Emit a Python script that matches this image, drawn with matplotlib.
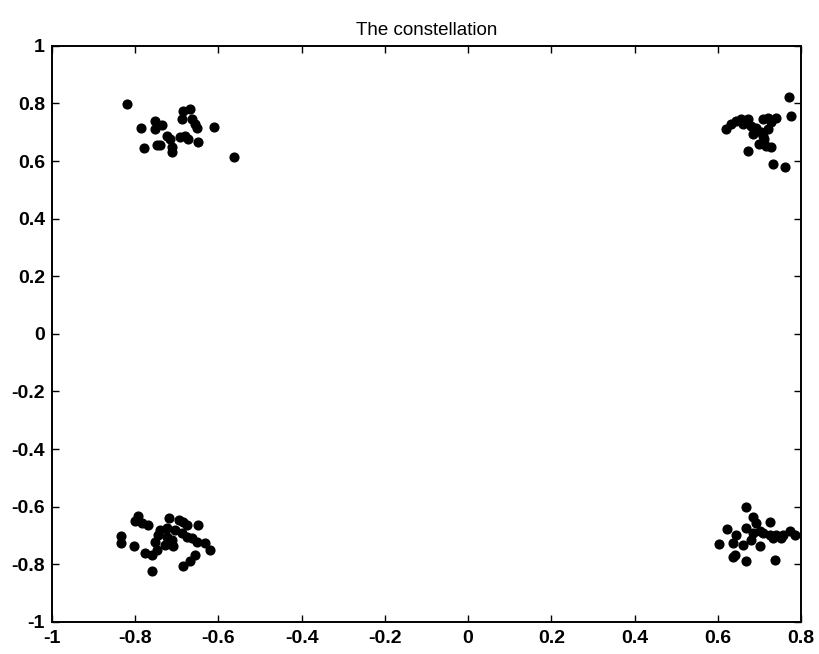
import numpy as np
import matplotlib
matplotlib.use("Agg")
import matplotlib.pyplot as plt

# ------------------------------------
# Received symbols, one list per quadrant
# ------------------------------------

tl_x = [-0.819, -0.785, -0.778, -0.748, -0.740, -0.752, -0.736, -0.752, -0.724, -0.716,
        -0.712, -0.712, -0.692, -0.680, -0.672, -0.688, -0.684, -0.668, -0.664, -0.656,
        -0.652, -0.648, -0.610, -0.562]
tl_y = [0.798, 0.714, 0.645, 0.655, 0.655, 0.740, 0.725, 0.711, 0.688, 0.676,
        0.647, 0.630, 0.682, 0.688, 0.678, 0.746, 0.774, 0.780, 0.746, 0.728,
        0.716, 0.667, 0.719, 0.615]

tr_x = [0.772, 0.776, 0.620, 0.632, 0.644, 0.656, 0.672, 0.680, 0.692, 0.708,
        0.720, 0.740, 0.728, 0.704, 0.712, 0.700, 0.716, 0.728, 0.708, 0.720,
        0.672, 0.732, 0.762, 0.660, 0.684]
tr_y = [0.821, 0.757, 0.711, 0.728, 0.740, 0.746, 0.746, 0.722, 0.716, 0.746,
        0.751, 0.751, 0.734, 0.699, 0.676, 0.659, 0.653, 0.647, 0.688, 0.711,
        0.635, 0.589, 0.580, 0.728, 0.693]

bl_x = [-0.793, -0.801, -0.784, -0.769, -0.833, -0.833, -0.802, -0.777, -0.760, -0.748,
        -0.752, -0.745, -0.740, -0.724, -0.720, -0.724, -0.712, -0.709, -0.728, -0.696,
        -0.684, -0.676, -0.704, -0.688, -0.676, -0.664, -0.648, -0.652, -0.632, -0.620,
        -0.656, -0.668, -0.684, -0.760]
bl_y = [-0.632, -0.648, -0.657, -0.663, -0.701, -0.727, -0.738, -0.761, -0.767, -0.750,
        -0.721, -0.698, -0.680, -0.675, -0.640, -0.704, -0.715, -0.738, -0.733, -0.646,
        -0.652, -0.663, -0.680, -0.692, -0.704, -0.709, -0.663, -0.721, -0.727, -0.750,
        -0.767, -0.790, -0.805, -0.822]

br_x = [0.669, 0.685, 0.693, 0.725, 0.669, 0.623, 0.645, 0.604, 0.637, 0.661,
        0.641, 0.637, 0.669, 0.681, 0.685, 0.701, 0.709, 0.725, 0.741, 0.757,
        0.773, 0.785, 0.733, 0.753, 0.737, 0.701]
br_y = [-0.602, -0.637, -0.657, -0.652, -0.675, -0.678, -0.698, -0.730, -0.727, -0.733,
        -0.767, -0.773, -0.790, -0.715, -0.692, -0.738, -0.692, -0.698, -0.698, -0.698,
        -0.686, -0.698, -0.709, -0.709, -0.785, -0.686]

xticks = [-1, -0.8, -0.6, -0.4, -0.2, 0, 0.2, 0.4, 0.6, 0.8]
yticks = [-1, -0.8, -0.6, -0.4, -0.2, 0, 0.2, 0.4, 0.6, 0.8, 1]

# ------------------------------------
# Plot
# ------------------------------------

plt.rcParams['font.family'] = ['Liberation Sans', 'DejaVu Sans']

fig = plt.figure(figsize=(8.19, 6.54), dpi=100)
ax = fig.add_axes([0.0635, 0.049, 0.9145, 0.881])

for xs, ys in [(tl_x, tl_y), (tr_x, tr_y), (bl_x, bl_y), (br_x, br_y)]:
    ax.plot(xs, ys, 'o', color='black', markersize=6.3, linestyle='None')

ax.set_xlim(-1, 0.8)
ax.set_ylim(-1, 1)
ax.set_xticks(xticks)
ax.set_yticks(yticks)
ax.set_xticklabels([f"{t:g}" for t in xticks], fontweight='bold', fontsize=14)
ax.set_yticklabels([f"{t:g}" for t in yticks], fontweight='bold', fontsize=14)
ax.tick_params(axis='x', direction='in', length=5, width=1, top=True, pad=6)
ax.tick_params(axis='y', direction='in', length=5, width=1, right=True, pad=5)
for s in ax.spines.values():
    s.set_linewidth(1.4)

ax.set_title("The constellation", fontsize=13.5, pad=8)

fig.savefig("out.png", dpi=100)
